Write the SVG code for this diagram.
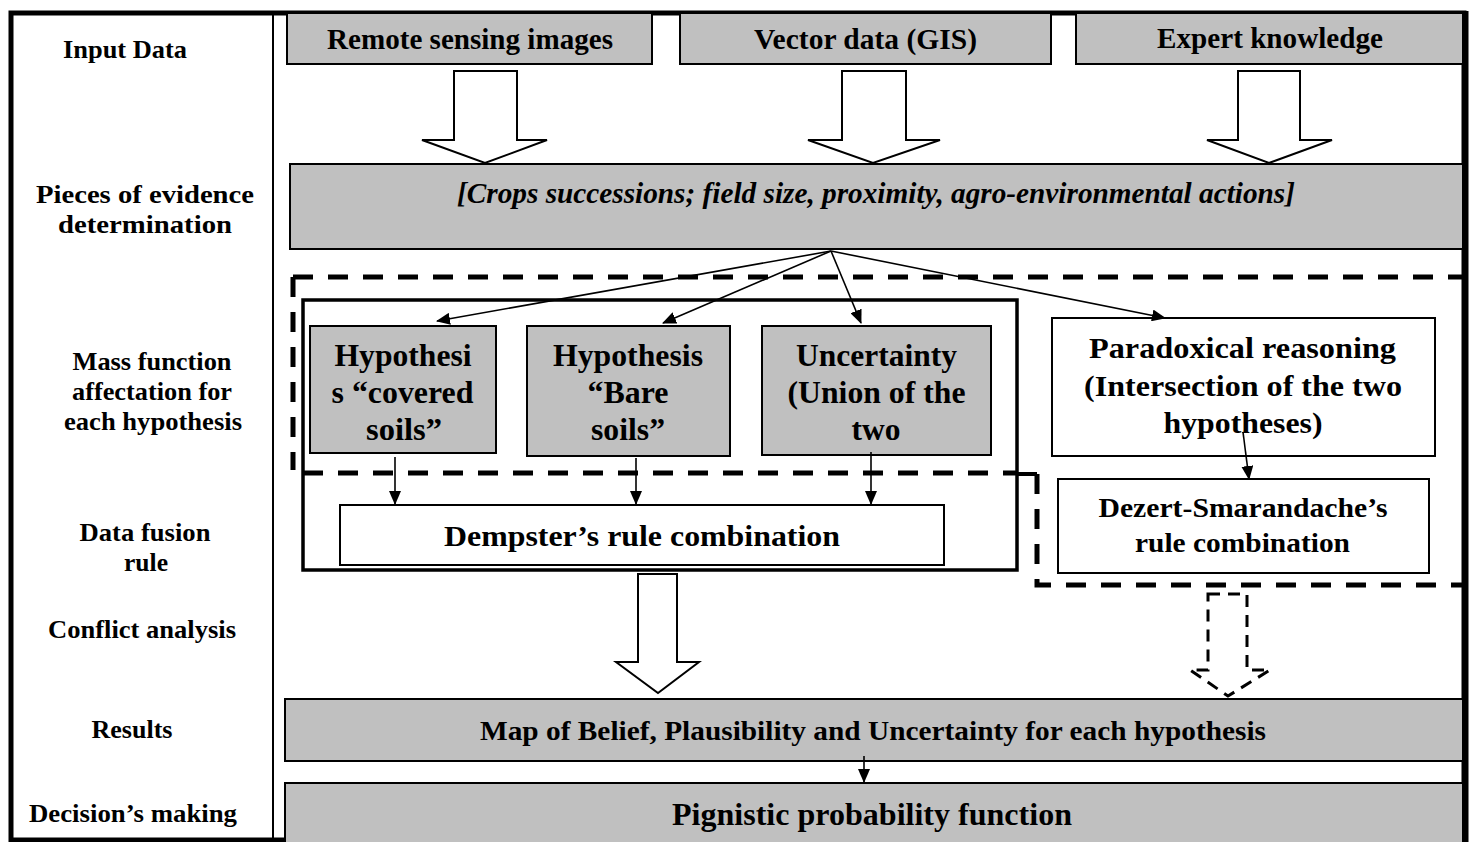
<svg xmlns="http://www.w3.org/2000/svg" width="1470" height="842" viewBox="0 0 1470 842">
<defs>
<style>
text{font-family:"Liberation Serif","Times New Roman",serif;font-weight:bold;fill:#000;text-anchor:middle}
.lbl{font-size:25px}
.in{font-size:30px}
.hy{font-size:30.5px}
.gray{fill:#c0c0c0;stroke:#000;stroke-width:2}
.white{fill:#fff;stroke:#000;stroke-width:2}
.blk{fill:#fff;stroke:#000;stroke-width:2}
.ln{fill:none;stroke:#000;stroke-width:1.6}
.dash{fill:none;stroke:#000;stroke-width:5;stroke-dasharray:20 15}
</style>
<marker id="ah" markerWidth="14" markerHeight="12" refX="13" refY="6" orient="auto" markerUnits="userSpaceOnUse">
<path d="M0,0 L14,6 L0,12 Z" fill="#000"/>
</marker>
</defs>
<rect x="0" y="0" width="1470" height="842" fill="#fff"/>

<g id="frame">
<rect x="11" y="13" width="1453" height="827" fill="none" stroke="#000" stroke-width="5"/>
<line x1="1466" y1="11" x2="1466" y2="842" stroke="#000" stroke-width="5"/>
<line x1="273" y1="13" x2="273" y2="840" stroke="#000" stroke-width="2"/>
</g>

<g id="row-labels">
<text class="lbl" x="125" y="58" textLength="124" lengthAdjust="spacingAndGlyphs">Input Data</text>
<text class="lbl" x="145" y="203" textLength="218" lengthAdjust="spacingAndGlyphs">Pieces of evidence</text>
<text class="lbl" x="145" y="233" textLength="174" lengthAdjust="spacingAndGlyphs">determination</text>
<text class="lbl" x="152" y="370" textLength="159" lengthAdjust="spacingAndGlyphs">Mass function</text>
<text class="lbl" x="152" y="400" textLength="160" lengthAdjust="spacingAndGlyphs">affectation for</text>
<text class="lbl" x="153" y="430" textLength="178" lengthAdjust="spacingAndGlyphs">each hypothesis</text>
<text class="lbl" x="145" y="541" textLength="131" lengthAdjust="spacingAndGlyphs">Data fusion</text>
<text class="lbl" x="146" y="571" textLength="44" lengthAdjust="spacingAndGlyphs">rule</text>
<text class="lbl" x="142" y="638" textLength="188" lengthAdjust="spacingAndGlyphs">Conflict analysis</text>
<text class="lbl" x="132" y="738" textLength="81" lengthAdjust="spacingAndGlyphs">Results</text>
<text class="lbl" x="133" y="822" textLength="208" lengthAdjust="spacingAndGlyphs">Decision’s making</text>
</g>

<g id="dashed-groups">
<path class="dash" d="M293,277 H1462 M293,277 V470 M303,473 H1017"/>
<path d="M1017,474 H1037" stroke="#000" stroke-width="4" fill="none"/>
<path class="dash" d="M1037,474 V585 H1462"/>
</g>

<g id="remote-sensing">
<rect class="gray" x="287" y="13" width="365" height="51"/>
<text class="in" x="470" y="49" textLength="286" lengthAdjust="spacingAndGlyphs">Remote sensing images</text>
</g>
<g id="vector-data">
<rect class="gray" x="680" y="13" width="371" height="51"/>
<text class="in" x="865.5" y="49" textLength="223" lengthAdjust="spacingAndGlyphs">Vector data (GIS)</text>
</g>
<g id="expert-knowledge">
<rect class="gray" x="1076" y="13" width="387" height="51"/>
<text class="in" x="1270" y="48" textLength="226" lengthAdjust="spacingAndGlyphs">Expert knowledge</text>
</g>

<g id="evidence">
<rect class="gray" x="290" y="164" width="1173" height="85"/>
<text x="876" y="203" font-size="29" font-style="italic" textLength="838" lengthAdjust="spacingAndGlyphs">[Crops successions; field size, proximity, agro-environmental actions]</text>
</g>

<g id="dempster-group">
<rect x="303" y="300" width="714" height="270" fill="none" stroke="#000" stroke-width="3.5"/>
</g>

<g id="hyp-covered">
<rect class="gray" x="310" y="326" width="186" height="127"/>
<text class="hy" x="403" y="366" textLength="137" lengthAdjust="spacingAndGlyphs">Hypothesi</text>
<text class="hy" x="402.5" y="403" textLength="142" lengthAdjust="spacingAndGlyphs">s “covered</text>
<text class="hy" x="404" y="440" textLength="76" lengthAdjust="spacingAndGlyphs">soils”</text>
</g>
<g id="hyp-bare">
<rect class="gray" x="527" y="326" width="203" height="130"/>
<text class="hy" x="628" y="366" textLength="150" lengthAdjust="spacingAndGlyphs">Hypothesis</text>
<text class="hy" x="628" y="403" textLength="81" lengthAdjust="spacingAndGlyphs">“Bare</text>
<text class="hy" x="628" y="440" textLength="74" lengthAdjust="spacingAndGlyphs">soils”</text>
</g>
<g id="uncertainty">
<rect class="gray" x="762" y="326" width="229" height="129"/>
<text class="hy" x="876.5" y="366" textLength="161" lengthAdjust="spacingAndGlyphs">Uncertainty</text>
<text class="hy" x="876.5" y="403" textLength="178" lengthAdjust="spacingAndGlyphs">(Union of the</text>
<text class="hy" x="876" y="440" textLength="49" lengthAdjust="spacingAndGlyphs">two</text>
</g>
<g id="paradoxical">
<rect class="white" x="1052" y="318" width="383" height="138"/>
<text font-size="30" x="1242.5" y="358" textLength="307" lengthAdjust="spacingAndGlyphs">Paradoxical reasoning</text>
<text font-size="30" x="1243" y="396" textLength="318" lengthAdjust="spacingAndGlyphs">(Intersection of the two</text>
<text font-size="30" x="1243" y="433" textLength="159" lengthAdjust="spacingAndGlyphs">hypotheses)</text>
</g>
<g id="dempster">
<rect class="white" x="340" y="505" width="604" height="60"/>
<text font-size="29" x="642" y="546" textLength="396" lengthAdjust="spacingAndGlyphs">Dempster’s rule combination</text>
</g>
<g id="dezert">
<rect class="white" x="1058" y="479" width="371" height="94"/>
<text font-size="27" x="1243" y="517" textLength="289" lengthAdjust="spacingAndGlyphs">Dezert-Smarandache’s</text>
<text font-size="27" x="1242.5" y="552" textLength="215" lengthAdjust="spacingAndGlyphs">rule combination</text>
</g>
<g id="results">
<rect class="gray" x="285" y="699" width="1178" height="62" stroke-width="3"/>
<text font-size="28" x="873" y="740" textLength="786" lengthAdjust="spacingAndGlyphs">Map of Belief, Plausibility and Uncertainty for each hypothesis</text>
</g>
<g id="pignistic">
<rect class="gray" x="285" y="783" width="1178" height="60"/>
<text font-size="32" x="872" y="825" textLength="400" lengthAdjust="spacingAndGlyphs">Pignistic probability function</text>
</g>

<g id="connectors">
<path class="blk" d="M454,71 H517 V140 H547 L485,163 L422,140 H454 Z"/>
<path class="blk" d="M842,71 H906 V140 H940 L873,163 L808,140 H842 Z"/>
<path class="blk" d="M1238,71 H1300 V140 H1332 L1269,163 L1207,140 H1238 Z"/>
<line class="ln" x1="831" y1="251" x2="437" y2="321" marker-end="url(#ah)"/>
<line class="ln" x1="831" y1="251" x2="663" y2="323" marker-end="url(#ah)"/>
<line class="ln" x1="831" y1="251" x2="861" y2="323" marker-end="url(#ah)"/>
<line class="ln" x1="831" y1="251" x2="1165" y2="318" marker-end="url(#ah)"/>
<line class="ln" x1="395" y1="457" x2="395" y2="504" marker-end="url(#ah)"/>
<line class="ln" x1="636" y1="458" x2="636" y2="504" marker-end="url(#ah)"/>
<line class="ln" x1="871" y1="452" x2="871" y2="504" marker-end="url(#ah)"/>
<line class="ln" x1="1243" y1="432" x2="1249" y2="479" marker-end="url(#ah)"/>
<path class="blk" stroke-width="3" d="M638,574 H677 V662 H699 L658,693 L616,662 H638 Z"/>
<path fill="#fff" stroke="#000" stroke-width="3" stroke-dasharray="12 8" d="M1208,594 H1247 V670 H1270 L1228,696 L1190,670 H1208 Z"/>
<line class="ln" x1="864" y1="756" x2="864" y2="782" marker-end="url(#ah)"/>
</g>
</svg>
